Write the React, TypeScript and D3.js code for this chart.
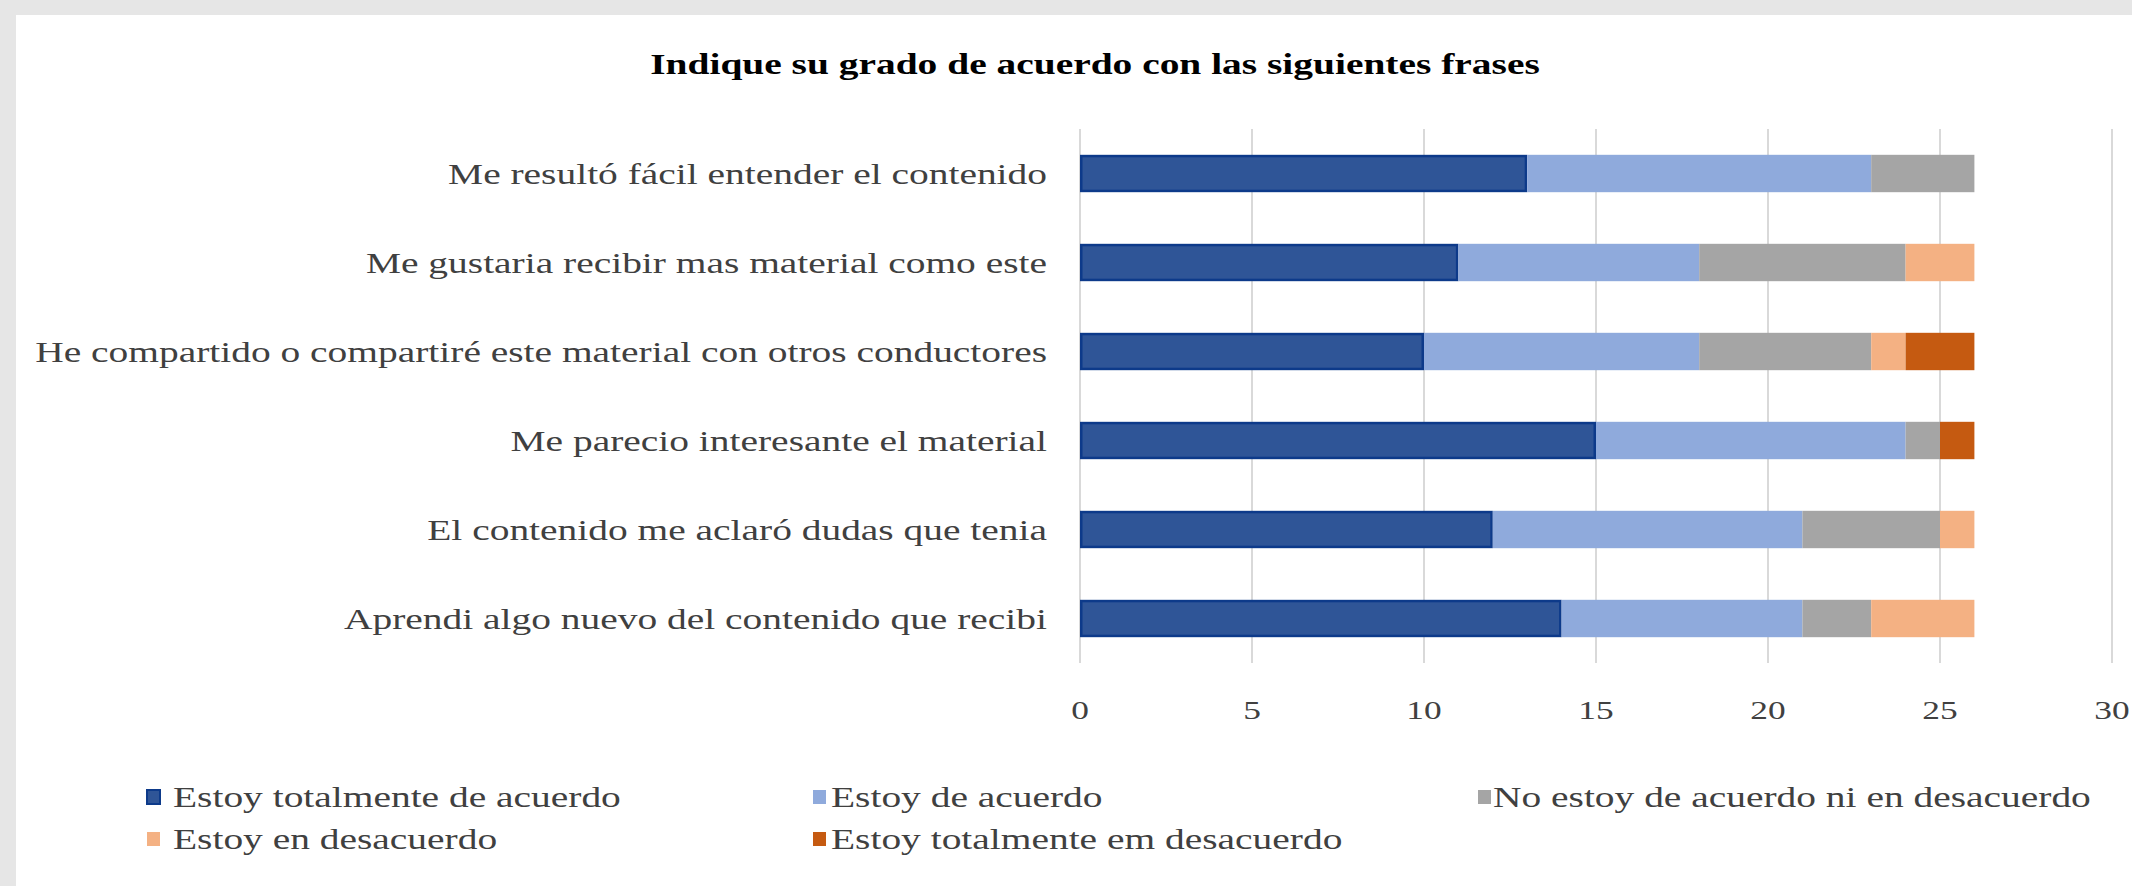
import React from "react";
import * as d3 from "d3";

const categories = [
  "Me resultó fácil entender el contenido",
  "Me gustaria recibir mas material como este",
  "He compartido o compartiré este material con otros conductores",
  "Me parecio interesante el material",
  "El contenido me aclaró dudas que tenia",
  "Aprendi algo nuevo del contenido que recibi",
];
const seriesNames = [
  "Estoy totalmente de acuerdo",
  "Estoy de acuerdo",
  "No estoy de acuerdo ni en desacuerdo",
  "Estoy en desacuerdo",
  "Estoy totalmente em desacuerdo",
];
const totalmenteDeAcuerdo = [13, 11, 10, 15, 12, 14];
const deAcuerdo = [10, 7, 8, 9, 9, 7];
const neutral = [3, 6, 5, 1, 4, 2];
const enDesacuerdo = [0, 2, 1, 0, 1, 3];
const totalmenteEnDesacuerdo = [0, 0, 2, 1, 0, 0];
const xTicks = [0, 5, 10, 15, 20, 25, 30];
const title = "Indique su grado de acuerdo con las siguientes frases";

const colors = ["#2F5597", "#8FAADC", "#A5A5A5", "#F4B183", "#C55A11"];
const SX = 1.36;
const FONT = "'Liberation Serif', 'Times New Roman', serif";

export default function App() {
  const W = 2132, H = 886;
  const x = d3.scaleLinear().domain([0, 30]).range([1080, 2112]);
  const y = d3.scaleBand<string>().domain(categories).range([129, 663]).paddingInner(0.58).paddingOuter(0.29);
  const seriesVals = [totalmenteDeAcuerdo, deAcuerdo, neutral, enDesacuerdo, totalmenteEnDesacuerdo];
  const rows = categories.map((c, i) => {
    const r: any = { cat: c };
    seriesNames.forEach((s, k) => (r[s] = seriesVals[k][i]));
    return r;
  });
  const stacked = d3.stack<any>().keys(seriesNames)(rows);

  const legendPos = [
    { mx: 147, tx: 173, y: 797 },
    { mx: 813, tx: 831, y: 797 },
    { mx: 1478, tx: 1493, y: 797 },
    { mx: 147, tx: 173, y: 839 },
    { mx: 813, tx: 831, y: 839 },
  ];

  return (
    <>
      <style>{`body{margin:0}`}</style>
      <svg width={W} height={H} style={{ display: "block" }} fontFamily={FONT}>
        <rect x={0} y={0} width={W} height={H} fill="#e6e6e6" />
        <rect x={16} y={15} width={W - 16} height={H - 15} fill="#ffffff" />
        <text
          transform={`translate(1095,74) scale(${SX},1)`}
          textAnchor="middle"
          fontSize={29}
          fontWeight="bold"
          fill="#000"
        >
          {title}
        </text>
        {xTicks.map((t) => (
          <line key={t} x1={x(t)} x2={x(t)} y1={129} y2={663} stroke="#d9d9d9" strokeWidth={2} />
        ))}
        {stacked.map((s, k) =>
          s.map((d, i) => {
            const w = x(d[1]) - x(d[0]);
            if (w <= 0) return null;
            const yy = y(categories[i])!;
            const bw = y.bandwidth();
            return k === 0 ? (
              <rect
                key={`${k}-${i}`}
                x={x(d[0]) + 1.25}
                y={yy + 1.25}
                width={w - 2.5}
                height={bw - 2.5}
                fill={colors[k]}
                stroke="#0d3a8a"
                strokeWidth={2.5}
              />
            ) : (
              <rect key={`${k}-${i}`} x={x(d[0])} y={yy} width={w} height={bw} fill={colors[k]} />
            );
          })
        )}
        {categories.map((c) => (
          <text
            key={c}
            transform={`translate(1047,${y(c)! + y.bandwidth() / 2 + 10}) scale(${SX},1)`}
            textAnchor="end"
            fontSize={29}
            fill="#404040"
          >
            {c}
          </text>
        ))}
        {xTicks.map((t) => (
          <text
            key={t}
            transform={`translate(${x(t)},719) scale(${SX},1)`}
            textAnchor="middle"
            fontSize={26}
            fill="#404040"
          >
            {t}
          </text>
        ))}
        {seriesNames.map((s, k) => (
          <g key={s}>
            <rect
              x={legendPos[k].mx}
              y={legendPos[k].y - 7}
              width={13}
              height={14}
              fill={colors[k]}
              stroke={k === 0 ? "#0d3a8a" : "none"}
              strokeWidth={k === 0 ? 2 : 0}
            />
            <text
              transform={`translate(${legendPos[k].tx},${legendPos[k].y + 10}) scale(${SX},1)`}
              fontSize={29}
              fill="#404040"
            >
              {s}
            </text>
          </g>
        ))}
      </svg>
    </>
  );
}
